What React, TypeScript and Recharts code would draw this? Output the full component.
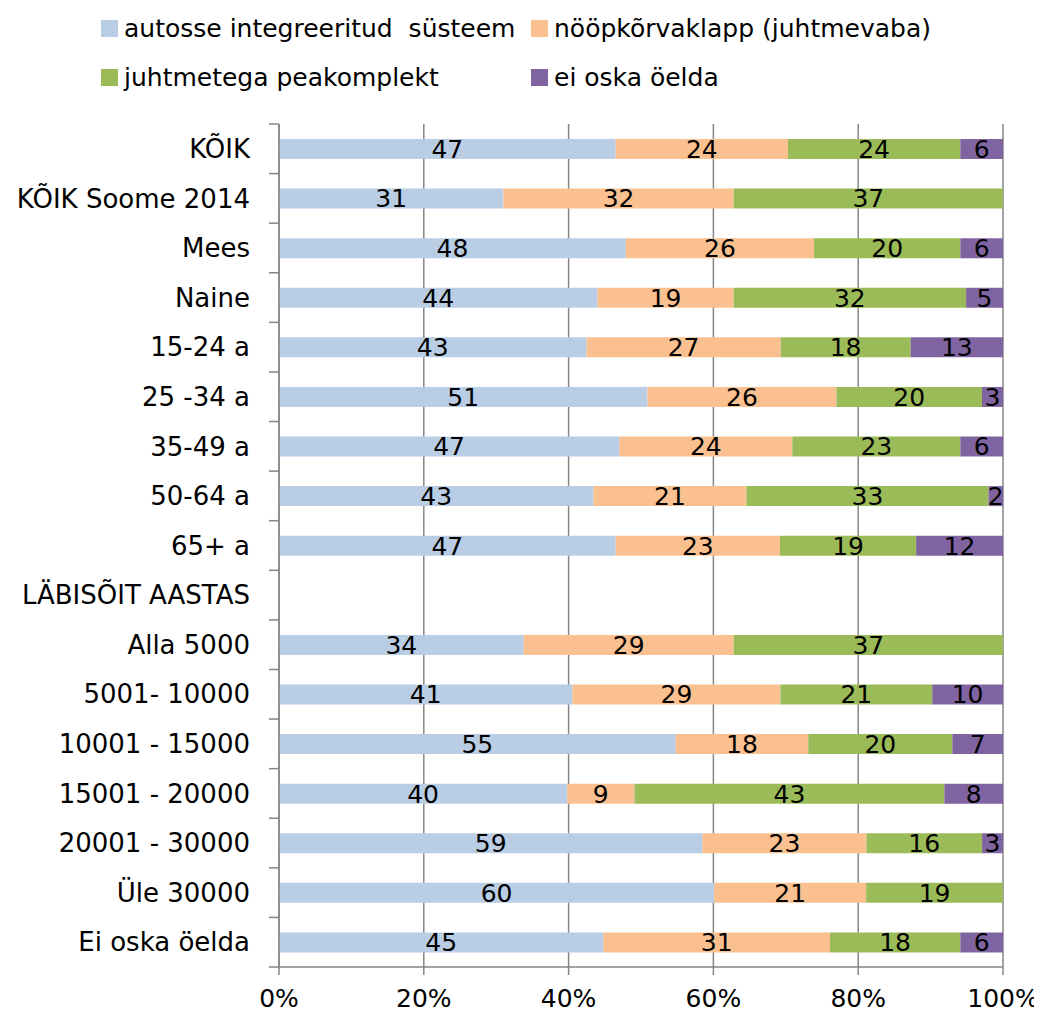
import { BarChart, Bar, XAxis, YAxis, CartesianGrid, LabelList } from "recharts";

const categories = [
  "KÕIK",
  "KÕIK Soome 2014",
  "Mees",
  "Naine",
  "15-24 a",
  "25 -34 a",
  "35-49 a",
  "50-64 a",
  "65+ a",
  "LÄBISÕIT AASTAS",
  "Alla 5000",
  "5001- 10000",
  "10001 - 15000",
  "15001 - 20000",
  "20001 - 30000",
  "Üle 30000",
  "Ei oska öelda",
];

// shares (labels are these values rounded)
const integrated = [46.5, 31.0, 47.9, 44.0, 42.6, 50.9, 47.0, 43.4, 46.5, null, 33.8, 40.6, 54.8, 39.8, 58.6, 60.1, 44.8];
const wireless = [23.8, 31.8, 26.0, 18.8, 26.9, 26.1, 23.9, 21.1, 22.7, null, 29.0, 28.8, 18.3, 9.3, 22.7, 21.0, 31.3];
const wired = [23.8, 37.2, 20.2, 32.1, 18.0, 20.1, 23.2, 33.4, 18.8, null, 37.2, 21.0, 19.9, 42.8, 16.0, 18.9, 18.0];
const unknown = [5.9, 0, 5.9, 5.1, 12.8, 2.9, 5.9, 2.0, 12.0, null, 0, 9.8, 7.0, 8.1, 2.9, 0, 5.9];

const xTicks = [0, 0.2, 0.4, 0.6, 0.8, 1];

const series = [
  { key: "integrated", name: "autosse integreeritud  süsteem", color: "#B9CDE5" },
  { key: "wireless", name: "nööpkõrvaklapp (juhtmevaba)", color: "#FAC090" },
  { key: "wired", name: "juhtmetega peakomplekt", color: "#9BBB59" },
  { key: "unknown", name: "ei oska öelda", color: "#8064A2" },
];

const data = categories.map((name, i) => ({
  name,
  integrated: integrated[i],
  wireless: wireless[i],
  wired: wired[i],
  unknown: unknown[i],
}));

const AXIS = "#868686";
const FONT = "'DejaVu Sans', Verdana, sans-serif";

const YTick = (props: any) => {
  const { x, y, payload, index } = props;
  const half = payload?.offset ?? 0;
  const ax = x + 29;
  return (
    <g>
      <line x1={ax - 10} x2={ax} y1={y - half} y2={y - half} stroke={AXIS} strokeWidth={1.5} />
      {index === categories.length - 1 && (
        <line x1={ax - 10} x2={ax} y1={y + half} y2={y + half} stroke={AXIS} strokeWidth={1.5} />
      )}
      <text x={x} y={y} dy="0.355em" textAnchor="end" fill="#000" fontSize={26}>
        {payload.value}
      </text>
    </g>
  );
};

export default function App() {
  return (
    <div style={{ position: "relative", width: 1034, height: 1004, fontFamily: FONT }}>
      <div
        style={{
          position: "absolute",
          left: 93,
          top: 5,
          display: "grid",
          gridTemplateColumns: "430px auto",
          rowGap: 19,
          fontSize: 25,
          color: "#000",
        }}
      >
        {series.map((s) => (
          <div key={s.key} style={{ display: "flex", alignItems: "center", height: 30, whiteSpace: "pre" }}>
            <span style={{ width: 17, height: 17, background: s.color, marginRight: 6, display: "inline-block" }} />
            {s.name}
          </div>
        ))}
      </div>
      <BarChart
        width={1034}
        height={1004}
        data={data}
        layout="vertical"
        stackOffset="expand"
        margin={{ top: 116, right: 39, bottom: 0, left: 0 }}
        style={{ fontFamily: FONT }}
      >
        <CartesianGrid horizontal={false} stroke={AXIS} strokeWidth={1.5} />
        <XAxis
          type="number"
          domain={[0, 1]}
          ticks={xTicks}
          tickFormatter={(v: number) => `${Math.round(v * 100)}%`}
          height={45}
          tickSize={8}
          tickMargin={14}
          stroke={AXIS}
          strokeWidth={1.5}
          tick={{ fill: "#000", fontSize: 25 }}
        />
        <YAxis
          type="category"
          dataKey="name"
          width={271}
          tickSize={10}
          tickMargin={19}
          tickLine={false}
          stroke={AXIS}
          strokeWidth={1.5}
          interval={0}
          tick={<YTick />}
        />
        {series.map((s) => (
          <Bar key={s.key} dataKey={s.key} stackId="a" fill={s.color} barSize={20} isAnimationActive={false}>
            <LabelList
              dataKey={s.key}
              position="center"
              fill="#000"
              fontSize={25}
              formatter={(v: any) => (v ? Math.round(Number(v)) : "")}
            />
          </Bar>
        ))}
      </BarChart>
    </div>
  );
}
